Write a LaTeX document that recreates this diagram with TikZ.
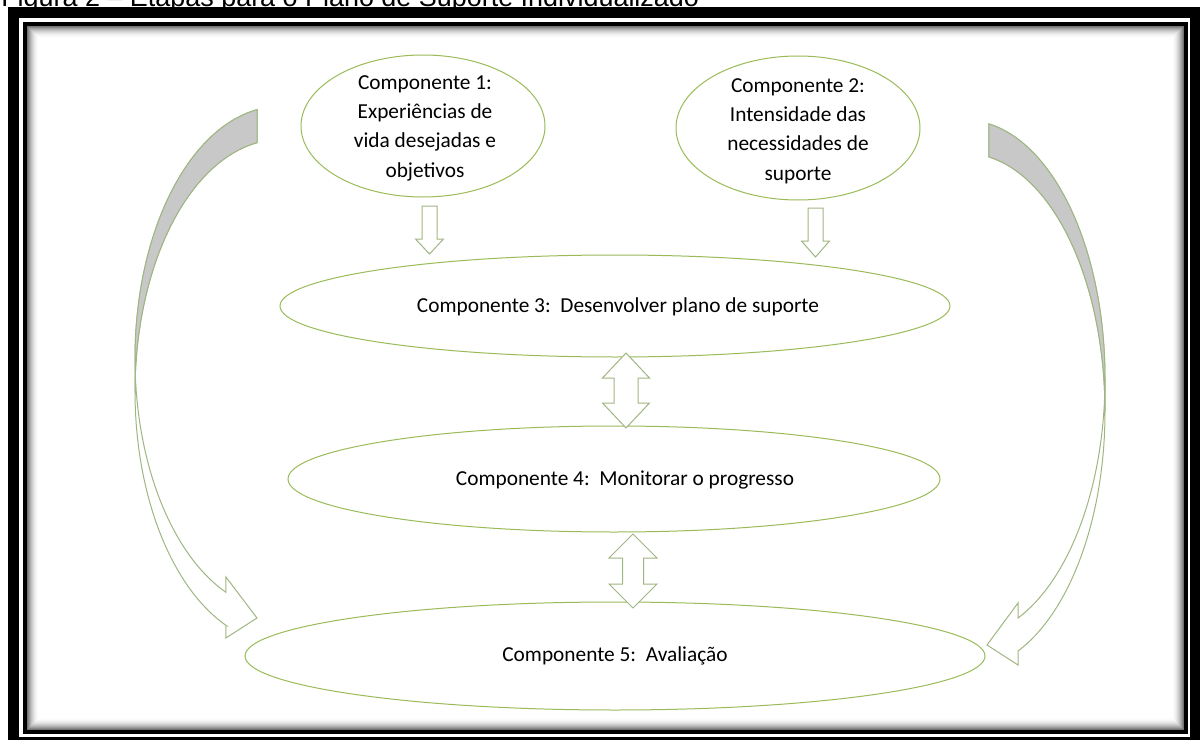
\documentclass[tikz,border=0pt]{standalone}
\usepackage{fontspec}
\setmainfont{Carlito}
\newfontfamily\capfont{Liberation Sans}
\usetikzlibrary{shapes.geometric}
\definecolor{lgreen}{RGB}{155,187,89}
\definecolor{agreen}{RGB}{160,182,130}
\definecolor{bandgray}{RGB}{200,200,200}
\begin{document}
\begin{tikzpicture}[x=0.75pt,y=-0.75pt,
  ell/.style={draw=lgreen, line width=0.75pt, ellipse, inner sep=0pt, fill=white},
  txt/.style={font=\fontsize{16}{22}\selectfont, align=center, inner sep=0pt},
  blk/.style={draw=agreen, line width=0.75pt, fill=white, line join=miter},
  band/.style={draw=agreen, line width=0.75pt, fill=bandgray, line join=miter},
  front/.style={draw=agreen, line width=0.75pt, fill=white, line join=miter}]
\useasboundingbox (0,0) rectangle (1200,742);
\fill[white] (0,0) rectangle (1200,742);
% caption (cut off at the top)
\node[anchor=base west, inner sep=0pt, font=\capfont\fontsize{20.2}{22}\selectfont] (cap) at (1,6.5) {Figura 2 – Etapas para o Plano de Suporte Individualizado};
% frame
\fill[black] (8,7) rectangle (1200,740);
\fill[white] (19,18) rectangle (1190,737);
\fill[black] (23,22) rectangle (1188,734);
\fill[white] (27,26) rectangle (1184,730);
\foreach \i in {0,...,11} {
  \pgfmathsetmacro\s{55*(1-\i/12)^2}
  \draw[black!\s, line width=0.75pt] (27.5+\i,26.5+\i) rectangle (1183.5-\i,729.5-\i);
}
% ellipses
\node[ell, minimum width=183pt, minimum height=106.5pt] (e1) at (423,126) {};
\node[ell, minimum width=183pt, minimum height=108pt] (e2) at (798,128) {};
\node[ell, minimum width=502.5pt, minimum height=76.5pt] (e3) at (615,306) {};
\node[ell, minimum width=489pt, minimum height=79.5pt] (e4) at (614,479) {};
\node[ell, minimum width=555pt, minimum height=81pt] (e5) at (615,656) {};
% down arrows
\draw[blk] (422,206) -- (437,206) -- (437,239) -- (443.5,239) -- (429.5,254) -- (415.5,239) -- (422,239) -- cycle;
\draw[blk] (808,208) -- (823,208) -- (823,241) -- (829.5,241) -- (815.5,257) -- (801.5,241) -- (808,241) -- cycle;
% double arrows
\draw[blk] (626,353) -- (649.5,378) -- (638,378) -- (638,403) -- (649.5,403) -- (626,428) -- (602.5,403) -- (614,403) -- (614,378) -- (602.5,378) -- cycle;
\draw[blk] (633,534) -- (657,558) -- (643.5,558) -- (643.5,584) -- (657,584) -- (633,608) -- (609,584) -- (622.5,584) -- (622.5,558) -- (609,558) -- cycle;
% left curved arrow
\draw[front] plot[domain=260.9:111.9, samples=80] ({280+145*cos(\x)},{358.5+252*sin(\x)})
  -- (225.9,577) -- (257,618) -- (225.9,638) -- (225.9,625.3)
  -- plot[domain=111.9:260.9, samples=80] ({280+145*cos(\x)},{391.5+252*sin(\x)}) -- cycle;
\draw[band] plot[domain=260.9:180, samples=60] ({280+145*cos(\x)},{358.5+252*sin(\x)})
  -- plot[domain=180:260.9, samples=60] ({280+145*cos(\x)},{391.5+252*sin(\x)}) -- cycle;
% right curved arrow
\draw[front] plot[domain=260.5:112, samples=80] ({966-139*cos(\x)},{378.6+258.2*sin(\x)})
  -- (1018,603) -- (987,645) -- (1018,665) -- (1018,651)
  -- plot[domain=112:260.5, samples=80] ({966-139*cos(\x)},{411.6+258.2*sin(\x)}) -- cycle;
\draw[band] plot[domain=260.5:180, samples=60] ({966-139*cos(\x)},{378.6+258.2*sin(\x)})
  -- plot[domain=180:260.5, samples=60] ({966-139*cos(\x)},{411.6+258.2*sin(\x)}) -- cycle;
% texts
\node[txt] (t1) at (425,128) {Componente 1:\\Experiências de\\vida desejadas e\\objetivos};
\node[txt] (t2) at (798,131) {Componente 2:\\Intensidade das\\necessidades de\\suporte};
\node[txt] (t3) at (618,307) {Componente 3:\ \ Desenvolver plano de suporte};
\node[txt] (t4) at (625,480) {Componente 4:\ \ Monitorar o progresso};
\node[txt] (t5) at (615,656) {Componente 5:\ \ Avaliação};
\end{tikzpicture}
\end{document}
